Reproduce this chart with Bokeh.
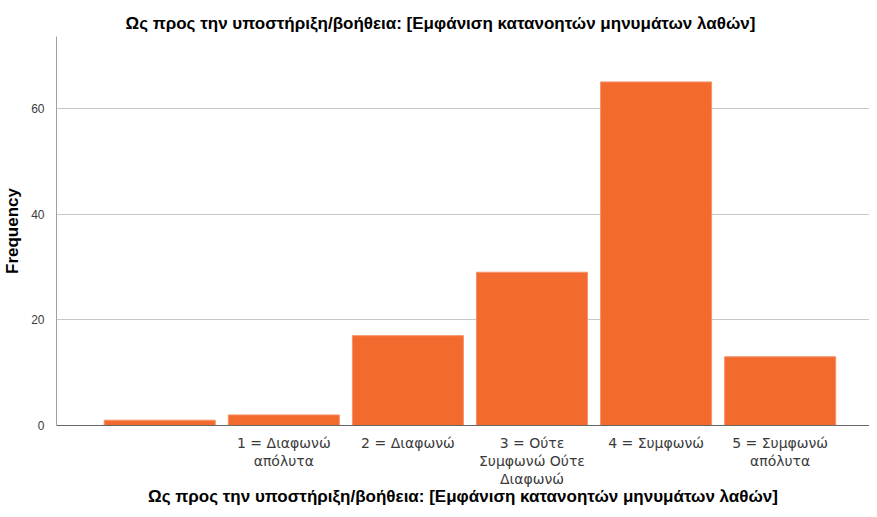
from bokeh.plotting import figure
from bokeh.models import Range1d, FixedTicker, Title
from bokeh.embed import file_html
from bokeh.resources import INLINE

title_text = "Ως προς την υποστήριξη/βοήθεια: [Εμφάνιση κατανοητών μηνυμάτων λαθών]"
categories = ["", "1 = Διαφωνώ απόλυτα", "2 = Διαφωνώ", "3 = Ούτε Συμφωνώ Ούτε Διαφωνώ",
              "4 = Συμφωνώ", "5 = Συμφωνώ απόλυτα"]
tick_labels = ["", "1 = Διαφωνώ\nαπόλυτα", "2 = Διαφωνώ", "3 = Ούτε\nΣυμφωνώ Ούτε\nΔιαφωνώ",
               "4 = Συμφωνώ", "5 = Συμφωνώ\nαπόλυτα"]
frequencies = [1, 2, 17, 29, 65, 13]
y_ticks = [0, 20, 40, 60]

FONT = "Liberation Sans"
TICK_FONT = "DejaVu Sans"
positions = list(range(len(categories)))
x_start, x_end = -0.832, 5.72

p = figure(width=869, height=509, output_backend="svg", toolbar_location=None,
           x_range=Range1d(x_start, x_end), y_range=Range1d(0, 73.6),
           min_border_left=54, min_border_right=0, min_border_top=36, min_border_bottom=84)

p.vbar(x=positions, top=frequencies, width=0.895, bottom=0,
       fill_color="#F26A2E", line_color="#F5936A", line_width=1)

p.title = Title(text=title_text, align="left", offset=69,
                text_font=FONT, text_font_size="17px", text_font_style="bold",
                text_color="#000000")
p.title.standoff = 8

p.xaxis.ticker = FixedTicker(ticks=positions[1:])
p.xaxis.major_label_overrides = {i: t for i, t in zip(positions, tick_labels) if t}
p.xaxis.major_tick_line_color = None
p.xaxis.minor_tick_line_color = None
p.xaxis.axis_line_color = "#666666"
p.xaxis.major_label_text_font = TICK_FONT
p.xaxis.major_label_text_font_size = "14px"
p.xaxis.major_label_text_color = "#3a3a3a"
p.xaxis.major_label_text_line_height = 1.15
p.xaxis.major_label_standoff = 3
p.xaxis.axis_label = title_text
p.xaxis.axis_label_text_font = FONT
p.xaxis.axis_label_text_font_size = "17px"
p.xaxis.axis_label_text_font_style = "bold"
p.xaxis.axis_label_text_color = "#000000"
p.xaxis.axis_label_standoff = -3

p.yaxis.ticker = FixedTicker(ticks=y_ticks)
p.yaxis.major_tick_line_color = None
p.yaxis.minor_tick_line_color = None
p.yaxis.axis_line_color = "#a0a0a0"
p.yaxis.major_label_text_font = FONT
p.yaxis.major_label_text_font_size = "12px"
p.yaxis.major_label_text_color = "#3a3a3a"
p.yaxis.major_label_standoff = 6
p.yaxis.axis_label = "Frequency"
p.yaxis.axis_label_text_font = FONT
p.yaxis.axis_label_text_font_size = "17px"
p.yaxis.axis_label_text_font_style = "bold"
p.yaxis.axis_label_text_color = "#000000"
p.yaxis.axis_label_standoff = 6

p.xgrid.grid_line_color = None
p.ygrid.grid_line_color = "#c8c8c8"
p.ygrid.grid_line_width = 1
p.outline_line_color = None
p.background_fill_color = "white"
p.border_fill_color = "white"

open("out.html", "w").write(file_html(p, INLINE))
